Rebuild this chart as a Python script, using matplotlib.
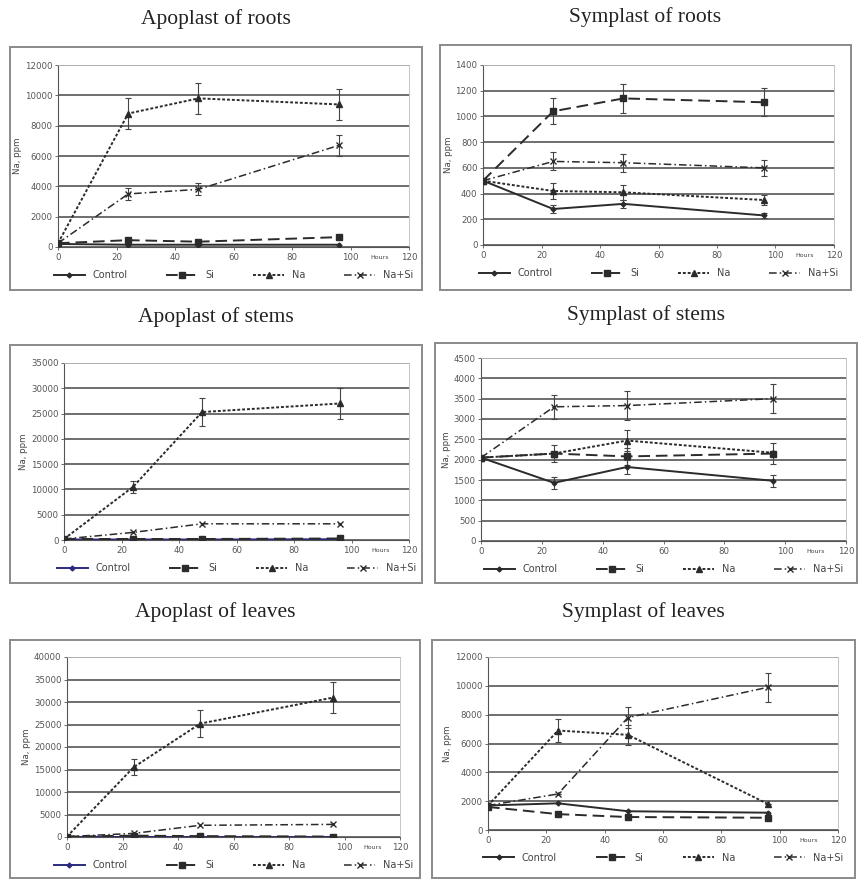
import matplotlib
matplotlib.use("Agg")
import matplotlib.pyplot as plt
from matplotlib.patches import Rectangle
import numpy as np

hours = [0, 24, 48, 96]
series_names = ["Control", "Si", "Na", "Na+Si"]

# Apoplast of roots
ar_control = [200, 150, 150, 150]
ar_si = [250, 450, 350, 650]
ar_na = [250, 8800, 9800, 9400]
ar_nasi = [250, 3500, 3800, 6700]
ar_na_err = [0, 1000, 1000, 1000]
ar_nasi_err = [0, 400, 400, 700]

# Symplast of roots
sr_control = [500, 280, 320, 230]
sr_si = [500, 1040, 1140, 1110]
sr_na = [500, 420, 410, 350]
sr_nasi = [500, 650, 640, 600]
sr_control_err = [0, 30, 30, 20]
sr_si_err = [0, 100, 110, 110]
sr_na_err = [0, 60, 60, 40]
sr_nasi_err = [0, 70, 70, 60]

# Apoplast of stems
as_control = [100, 100, 100, 150]
as_si = [200, 200, 200, 300]
as_na = [200, 10500, 25300, 27000]
as_nasi = [200, 1500, 3200, 3200]
as_na_err = [0, 1200, 2800, 3000]

# Symplast of stems
ss_control = [2050, 1430, 1820, 1480]
ss_si = [2050, 2150, 2080, 2150]
ss_na = [2050, 2150, 2470, 2170]
ss_nasi = [2050, 3300, 3330, 3500]
ss_control_err = [0, 150, 180, 150]
ss_si_err = [0, 200, 200, 250]
ss_na_err = [0, 0, 250, 0]
ss_nasi_err = [0, 300, 350, 350]

# Apoplast of leaves
al_control = [50, 50, 50, 50]
al_si = [100, 300, 200, 100]
al_na = [100, 15500, 25200, 31000]
al_nasi = [100, 800, 2600, 2800]
al_na_err = [0, 1800, 3000, 3500]

# Symplast of leaves
sl_control = [1700, 1850, 1300, 1200]
sl_si = [1600, 1100, 900, 850]
sl_na = [1700, 6900, 6600, 1800]
sl_nasi = [1700, 2500, 7800, 9900]
sl_na_err = [0, 800, 700, 0]
sl_nasi_err = [0, 0, 700, 1000]

zero = [0, 0, 0, 0]

W, H = 859, 882
fig = plt.figure(figsize=(W / 100, H / 100), dpi=100)

styles = {
    "Control": dict(ls="-", marker="D", ms=2.5, lw=1.4),
    "Si": dict(ls=(0, (6, 3)), marker="s", ms=5, lw=1.4),
    "Na": dict(ls=(0, (1.5, 1)), marker="^", ms=4, lw=1.4),
    "Na+Si": dict(ls=(0, (5, 2, 1, 2)), marker="x", ms=4, lw=1.1),
}


def px_rect(x0, y0, x1, y1):
    return [x0 / W, 1 - y1 / H, (x1 - x0) / W, (y1 - y0) / H]


def panel(title, box, plot, ymax, ystep, data, errs, control_color="#2b2b2b"):
    bx0, by0, bx1, by1 = box
    fig.add_artist(Rectangle((bx0 / W, 1 - by1 / H), (bx1 - bx0) / W, (by1 - by0) / H,
                             transform=fig.transFigure, fill=False, ec="#8a8a8a", lw=1.4))
    fig.text((bx0 + bx1) / 2 / W, 1 - (by0 - 28) / H, title, ha="center", va="center",
             fontsize=15.5, family="Liberation Serif", color="#222222")
    ax = fig.add_axes(px_rect(*plot))
    handles = []
    for name, y, e in zip(series_names, data, errs):
        st = styles[name]
        col = control_color if name == "Control" else "#2b2b2b"
        h, = ax.plot(hours, y, color=col, ls=st["ls"], marker=st["marker"], ms=st["ms"],
                     lw=st["lw"], mfc=col, mec=col, label=name, zorder=3)
        handles.append(h)
        if any(e):
            ax.errorbar(hours, y, yerr=e, fmt="none", ecolor="#444444", elinewidth=0.8,
                        capsize=2, capthick=0.8, zorder=2)
    ax.set_xlim(0, 120)
    ax.set_ylim(0, ymax)
    ax.set_xticks(np.arange(0, 121, 20))
    ax.set_yticks(np.arange(0, ymax + 1, ystep))
    ax.grid(axis="y", color="#6e6e6e", lw=1.4)
    ax.set_axisbelow(True)
    for s in ["top", "right"]:
        ax.spines[s].set_color("#bbbbbb")
        ax.spines[s].set_linewidth(0.6)
    for s in ["left", "bottom"]:
        ax.spines[s].set_color("#555555")
        ax.spines[s].set_linewidth(0.8)
    ax.tick_params(labelsize=6.2, colors="#555555", length=2, width=0.6, pad=2)
    ax.set_ylabel("Na, ppm", fontsize=6.2, color="#444444", labelpad=2)
    ax.text(110, -0.045, "Hours", transform=ax.get_xaxis_transform(), fontsize=4.5,
            ha="center", va="top", color="#444444")
    ax.legend(handles=handles, loc="upper center", bbox_to_anchor=(0.5, -0.08), ncol=4,
              frameon=False, fontsize=7, handlelength=3.2, columnspacing=4,
              labelcolor="#444444")
    return ax


panel("Apoplast of roots", (10, 47, 422, 290), (58, 65, 409, 247), 12000, 2000,
      [ar_control, ar_si, ar_na, ar_nasi], [zero, zero, ar_na_err, ar_nasi_err])
panel("Symplast of roots", (440, 45, 851, 290), (483, 65, 834, 245), 1400, 200,
      [sr_control, sr_si, sr_na, sr_nasi], [sr_control_err, sr_si_err, sr_na_err, sr_nasi_err])
panel("Apoplast of stems", (10, 345, 422, 583), (64, 363, 409, 540), 35000, 5000,
      [as_control, as_si, as_na, as_nasi], [zero, zero, as_na_err, zero], control_color="#2a2a80")
panel("Symplast of stems", (435, 343, 857, 583), (481, 358, 846, 541), 4500, 500,
      [ss_control, ss_si, ss_na, ss_nasi], [ss_control_err, ss_si_err, ss_na_err, ss_nasi_err])
panel("Apoplast of leaves", (10, 640, 420, 878), (67, 657, 400, 837), 40000, 5000,
      [al_control, al_si, al_na, al_nasi], [zero, zero, al_na_err, zero], control_color="#2a2a80")
panel("Symplast of leaves", (432, 640, 855, 878), (488, 657, 838, 830), 12000, 2000,
      [sl_control, sl_si, sl_na, sl_nasi], [zero, zero, sl_na_err, sl_nasi_err])

fig.savefig("out.png", dpi=100)
